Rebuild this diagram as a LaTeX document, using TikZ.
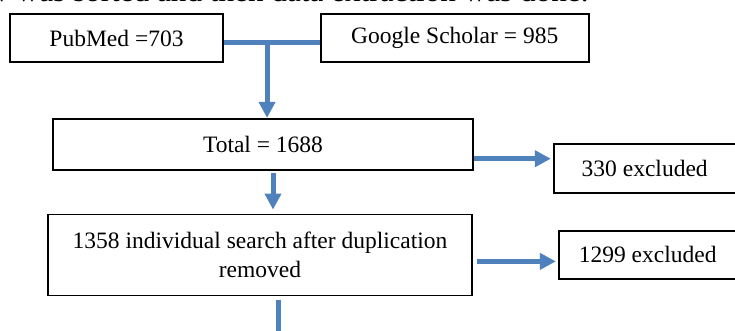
\documentclass[tikz,border=0pt]{standalone}
\usepackage{fontspec}
\setmainfont{Liberation Serif}
\usepackage{tikz}
\usetikzlibrary{arrows.meta,positioning,calc}
\definecolor{flow}{RGB}{79,129,189}

\begin{document}
\begin{tikzpicture}[
  font=\fontsize{11.75}{14.5}\selectfont,
  b/.style={draw, line width=0.85pt, align=center, minimum height=24pt, inner sep=2pt},
  ln/.style={draw=flow, line width=2.5pt},
  pf/.style={ln, -{Triangle[length=8pt, width=8pt]}}
]
\useasboundingbox (0,0) rectangle (367.5pt,-165.5pt);
\node[font=\fontsize{15.6}{18}\selectfont, anchor=base west, inner sep=0pt] (hdr) at (-7pt,-1pt) {w was sorted and then data extraction was done.};
\node[b, minimum width=106.5pt] (pm) at (58.25pt,-19pt) {PubMed =703};
\node[b, minimum width=134pt, right=48pt of pm] (gs) {Google Scholar = 985};
\node[b, minimum width=210pt, minimum height=25.5pt, below=27.5pt of pm, xshift=73.25pt] (tot) {Total = 1688};
\node[b, minimum width=212pt, minimum height=40.5pt, below=21.5pt of tot, xshift=-1.5pt] (rem) {1358 individual search after duplication\\removed};
\node[b, minimum width=91pt, minimum height=24.5pt, right=39.5pt of tot, yshift=-12pt] (ex1) {330 excluded};
\node[b, minimum width=89pt, right=42.5pt of rem] (ex2) {1299 excluded};
\coordinate (j) at ($(pm.east)!0.45!(gs.west)+(0,-2.25pt)$);
\coordinate (a1) at ([xshift=5pt]tot.south);
\coordinate (a2) at ([yshift=-7.25pt]tot.east);
\coordinate (a3) at ([yshift=-3.25pt]rem.east);
\coordinate (a4) at ([xshift=9pt]rem.south);
\coordinate (nx) at ([yshift=-35pt]a4);
\draw[ln] (pm.east |- j) -- (gs.west |- j);
\draw[pf] (j) -- (j |- tot.north);
\draw[pf, shorten <=1pt, shorten >=2pt] (a1) -- (a1 |- rem.north);
\draw[pf, shorten >=1pt] (a2) -- (a2 -| ex1.west);
\draw[pf, shorten <=2pt, shorten >=1pt] (a3) -- (a3 -| ex2.west);
\draw[pf, shorten <=2pt] (a4) -- (nx);
\end{tikzpicture}
\end{document}
